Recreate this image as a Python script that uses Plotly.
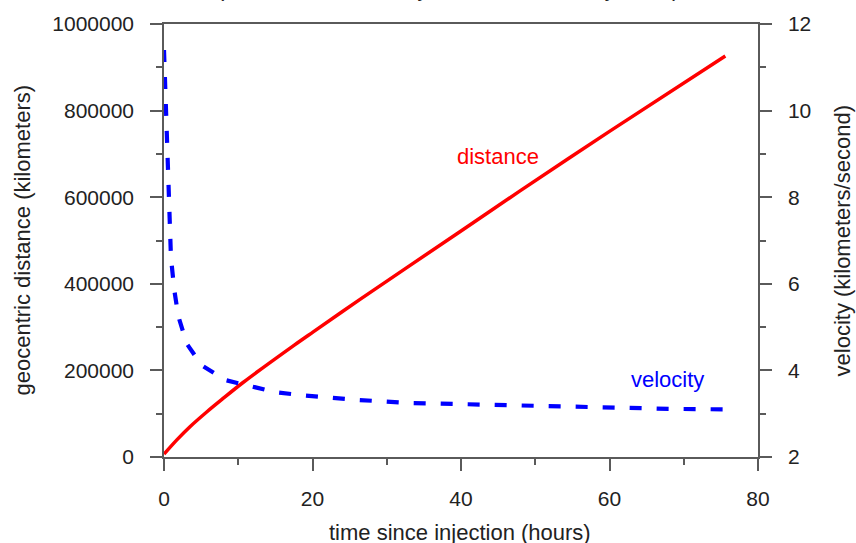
import plotly.graph_objects as go

# Distance from Earth's centre after translunar injection
dist_hours = [0, 1.7, 3.5, 5.75, 7.8, 10.6, 17.6, 20.1, 26.4, 40, 47.9, 60, 75.6]
dist_km = [6700, 39000, 70000, 104000, 133000, 171500, 259000, 289000,
           364000, 522000, 614000, 752000, 926000]

# Spacecraft velocity over the same interval
vel_hours = [0, 0.13, 0.22, 0.31, 0.44, 0.54, 0.67, 0.94, 1.39, 1.93, 3.05,
             5.07, 8.2, 10.9, 14.9, 18.3, 25.9, 32.7, 39.9, 47.0, 54.2,
             61.4, 68.6, 75.6]
vel_kms = [11.4, 10.7, 10.1, 9.5, 8.9, 8.3, 7.6, 6.6, 5.85, 5.25, 4.62,
           4.12, 3.78, 3.66, 3.50, 3.43, 3.32, 3.25, 3.22, 3.18, 3.15,
           3.12, 3.11, 3.10]

x_ticks = [0, 20, 40, 60, 80]
y1_ticks = [0, 200000, 400000, 600000, 800000, 1000000]
y2_ticks = [2, 4, 6, 8, 10, 12]

FONT = "Arial, Liberation Sans, sans-serif"
AXIS = "#5a5a5a"
TEXT = "#222222"

fig = go.Figure()
fig.add_trace(go.Scatter(
    x=dist_hours, y=dist_km, mode="lines", name="distance",
    line=dict(color="#ff0000", width=3.5, shape="spline", smoothing=0.8),
    yaxis="y"))
fig.add_trace(go.Scatter(
    x=vel_hours, y=vel_kms, mode="lines", name="velocity",
    line=dict(color="#0000ff", width=4.2, dash="12px,15px"), yaxis="y2"))

common = dict(
    showgrid=False, zeroline=False, showline=True, linecolor=AXIS,
    linewidth=1.5, ticks="outside", tickcolor=AXIS, tickwidth=1.5,
    ticklen=12, tickfont=dict(family=FONT, size=21, color=TEXT),
)
minor_style = dict(ticks="outside", ticklen=6, tickcolor=AXIS, tickwidth=1.5)

fig.update_layout(
    width=856, height=543,
    margin=dict(l=164, r=98, t=24, b=86),
    paper_bgcolor="white", plot_bgcolor="white",
    showlegend=False,
    xaxis=dict(range=[0, 80], tickvals=x_ticks, mirror=True,
               ticklabelstandoff=10, minor=dict(dtick=10, **minor_style),
               **common),
    yaxis=dict(range=[0, 1000000], tickvals=y1_ticks,
               tickformat="d", ticklabelstandoff=12,
               minor=dict(dtick=100000, **minor_style), **common),
    yaxis2=dict(range=[2, 12], tickvals=y2_ticks, overlaying="y",
                side="right", ticklabelstandoff=12,
                minor=dict(dtick=1, **minor_style), **common),
)

ann_font = dict(family=FONT, size=22, color=TEXT)
fig.add_annotation(text="time since injection (hours)", xref="paper",
                   yref="paper", x=0.498, y=-0.1755, showarrow=False,
                   font=ann_font, xanchor="center", yanchor="middle")
fig.add_annotation(text="geocentric distance (kilometers)", xref="paper",
                   yref="paper", x=-0.239, y=0.5, showarrow=False,
                   textangle=-90, font=ann_font,
                   xanchor="center", yanchor="middle")
fig.add_annotation(text="velocity (kilometers/second)", xref="paper",
                   yref="paper", x=1.143, y=0.5, showarrow=False,
                   textangle=-90, font=ann_font,
                   xanchor="center", yanchor="middle")
fig.add_annotation(text="(distance and velocity from launch to day three)",
                   xref="paper", yref="paper", x=0.478, y=1.0485,
                   showarrow=False, font=ann_font,
                   xanchor="center", yanchor="bottom")
fig.add_annotation(text="distance", xref="paper", yref="paper",
                   x=0.562, y=0.695, showarrow=False,
                   xanchor="center", yanchor="middle",
                   font=dict(family=FONT, size=22, color="#ff0000"))
fig.add_annotation(text="velocity", xref="paper", yref="paper",
                   x=0.847, y=0.180, showarrow=False,
                   xanchor="center", yanchor="middle",
                   font=dict(family=FONT, size=22, color="#0000ff"))

fig.write_html("out.html")
